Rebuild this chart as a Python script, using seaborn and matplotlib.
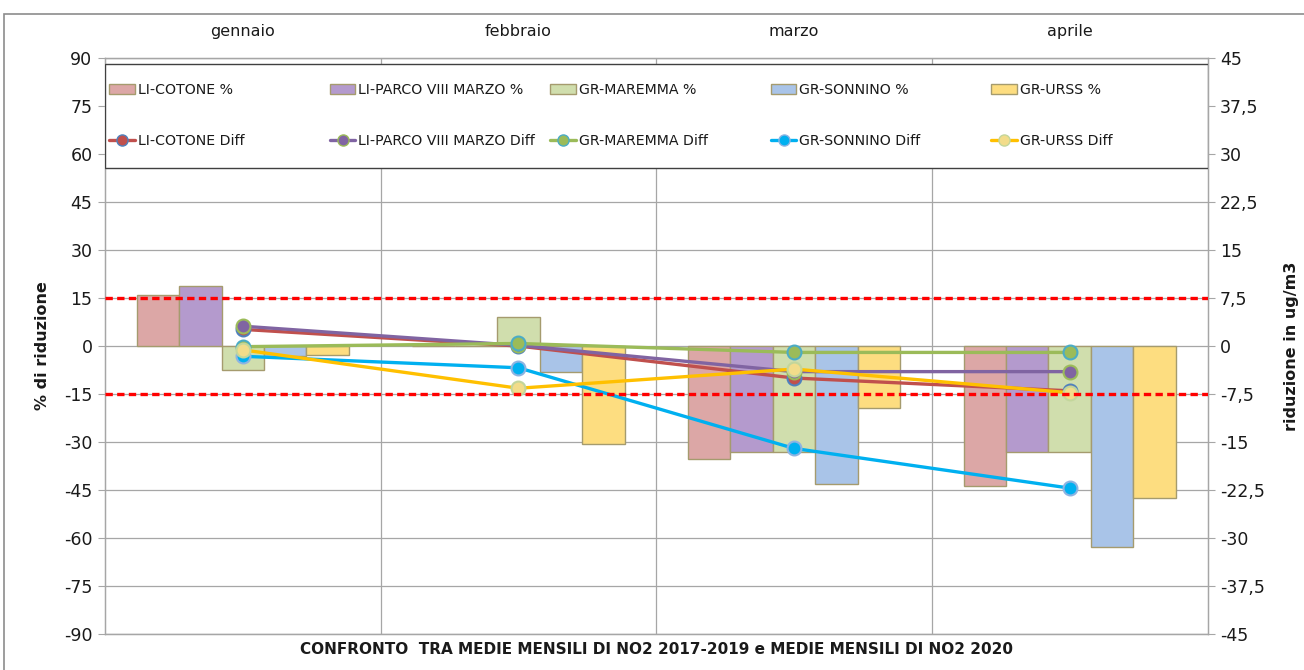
import numpy as np
import pandas as pd
import matplotlib.pyplot as plt
from matplotlib.patches import Patch, Rectangle, Shadow
from matplotlib.lines import Line2D
from matplotlib.legend import Legend
from matplotlib.ticker import FixedLocator
import seaborn as sns

# dati
MONTHS = ['gennaio', 'febbraio', 'marzo', 'aprile']
STATIONS = ['LI-COTONE', 'LI-PARCO VIII MARZO', 'GR-MAREMMA', 'GR-SONNINO', 'GR-URSS']

# % di riduzione (asse sinistro)
PCT_COTONE = [15.9, 0.0, -35.4, -43.8]
PCT_PARCO = [18.8, 0.0, -33.1, -33.1]
PCT_MAREMMA = [-7.5, 9.0, -33.1, -33.1]
PCT_SONNINO = [-3.1, -8.1, -43.1, -62.9]
PCT_URSS = [-2.8, -30.6, -19.5, -47.6]

# differenza in ug/m3 (asse destro)
DIFF_COTONE = [2.6, 0.0, -5.0, -7.0]
DIFF_PARCO = [3.1, 0.1, -4.0, -4.0]
DIFF_MAREMMA = [-0.1, 0.4, -1.0, -1.0]
DIFF_SONNINO = [-1.6, -3.4, -16.0, -22.2]
DIFF_URSS = [-0.6, -6.6, -3.6, -7.3]

SOGLIA = 15  # soglia % (linee rosse tratteggiate)
LEFT_TICKS = np.arange(-90, 91, 15)
RIGHT_TICKS = np.arange(-45, 45.1, 7.5)

BAR_COLORS = ['#DCA7A6', '#B49ACD', '#D0DEAD', '#A9C4E8', '#FDDD80']
BAR_EDGE = '#A59B6E'
LINE_COLORS = ['#C0504D', '#8064A2', '#9BBB59', '#00B0F0', '#FFC000']
MARKER_FACE = ['#C0504D', '#8064A2', '#9BBB59', '#00B0F0', '#F2DC8A']
MARKER_EDGE = ['#4F81BD', '#9BBB59', '#4BACC6', '#8DB4E2', '#C3D69B']
GRID = '#A6A6A6'

pct = [PCT_COTONE, PCT_PARCO, PCT_MAREMMA, PCT_SONNINO, PCT_URSS]
diff = [DIFF_COTONE, DIFF_PARCO, DIFF_MAREMMA, DIFF_SONNINO, DIFF_URSS]

df = pd.DataFrame({
    'mese': np.tile(MONTHS, len(STATIONS)),
    'stazione': np.repeat(STATIONS, len(MONTHS)),
    'valore': np.concatenate(pct),
})

sns.set_theme(style='white')
plt.rcParams['font.family'] = ['Liberation Sans Narrow', 'DejaVu Sans']
plt.rcParams['text.color'] = '#1A1A1A'
plt.rcParams['xtick.color'] = '#1A1A1A'
plt.rcParams['ytick.color'] = '#1A1A1A'
plt.rcParams['axes.labelcolor'] = '#1A1A1A'

fig = plt.figure(figsize=(13.04, 6.70), dpi=100)
ax = fig.add_axes([0.0805, 0.0537, 0.8455, 0.8597])

sns.barplot(data=df, x='mese', y='valore', hue='stazione', order=MONTHS, hue_order=STATIONS,
            palette=BAR_COLORS, width=0.77, saturation=1, edgecolor=BAR_EDGE, linewidth=1,
            errorbar=None, legend=False, ax=ax)

ax2 = ax.twinx()
xpos = np.arange(len(MONTHS))
for i, s in enumerate(STATIONS):
    sns.lineplot(x=xpos, y=diff[i], ax=ax2, color=LINE_COLORS[i], lw=2.4, marker='o', markersize=10,
                 markerfacecolor=MARKER_FACE[i], markeredgecolor=MARKER_EDGE[i], markeredgewidth=1.5,
                 legend=False)

# soglie +/- 15 % (asse destro = meta' del sinistro)
for v in (SOGLIA, -SOGLIA):
    ax2.axhline(v * 45 / 90, color='#FF0000', lw=2.4, dashes=(2.2, 1.3), zorder=5)

ax.set_xlim(-0.5, len(MONTHS) - 0.5)
ax.set_ylim(-90, 90)
ax2.set_ylim(-45, 45)

ax.set_yticks(LEFT_TICKS)
ax.set_yticklabels([f'{v:g}' for v in LEFT_TICKS])
ax2.set_yticks(RIGHT_TICKS)
ax2.set_yticklabels([f'{v:g}'.replace('.', ',') for v in RIGHT_TICKS])

ax.xaxis.tick_top()
ax.xaxis.set_minor_locator(FixedLocator(xpos[:-1] + 0.5))
ax.tick_params(axis='x', which='both', length=0, pad=14, labelsize=11.5)
ax.tick_params(axis='y', length=5, width=0.8, color=GRID, pad=4, labelsize=12.5, left=True)
ax2.tick_params(axis='y', length=5, width=0.8, color=GRID, pad=4, labelsize=12.5, right=True)

ax.grid(axis='y', which='major', color=GRID, lw=0.9)
ax.grid(axis='x', which='minor', color=GRID, lw=0.9)
ax.set_axisbelow(True)

for a in (ax, ax2):
    for sp in a.spines.values():
        sp.set_color(GRID)
        sp.set_linewidth(0.9)

ax.set_ylabel('% di riduzione', fontweight='bold', fontsize=11.5, labelpad=10)
ax2.set_ylabel('riduzione in ug/m3', fontweight='bold', fontsize=11.5, labelpad=14)
ax.xaxis.set_label_position('bottom')
ax.set_xlabel('CONFRONTO  TRA MEDIE MENSILI DI NO2 2017-2019 e MEDIE MENSILI DI NO2 2020',
              fontweight='bold', fontsize=11, labelpad=6)

# legenda: riquadro bianco con ombra e 5 colonne di uguale larghezza
box = Rectangle((0, 0.809), 1, 0.1806, transform=ax2.transAxes, facecolor='white',
                edgecolor='#404040', lw=1.0, zorder=6)
shadow = Shadow(box, 1.5, -1.5, facecolor='#7F7F7F', zorder=5.9)
ax2.add_patch(shadow)
ax2.add_patch(box)

for i, s in enumerate(STATIONS):
    handles = [
        Patch(facecolor=BAR_COLORS[i], edgecolor=BAR_EDGE, label=f'{s} %'),
        Line2D([0], [0], color=LINE_COLORS[i], lw=2.4, marker='o', markersize=8,
               markerfacecolor=MARKER_FACE[i], markeredgecolor=MARKER_EDGE[i], label=f'{s} Diff'),
    ]
    leg = Legend(ax2, handles, [h.get_label() for h in handles], loc='center left',
                 bbox_to_anchor=(0.004 + i * 0.2, 0.9), frameon=False, fontsize=10.2, borderpad=0,
                 borderaxespad=0, labelspacing=2.6, handlelength=1.8, handletextpad=0.2)
    leg.set_zorder(7)
    ax2.add_artist(leg)

# cornice del grafico
fig.patches.append(Rectangle((4 / 1304, -0.01), 1.0, 656 / 670 + 0.01, transform=fig.transFigure,
                             fill=False, edgecolor='#8C8C8C', lw=1.2))

fig.savefig('out.png', dpi=100)
